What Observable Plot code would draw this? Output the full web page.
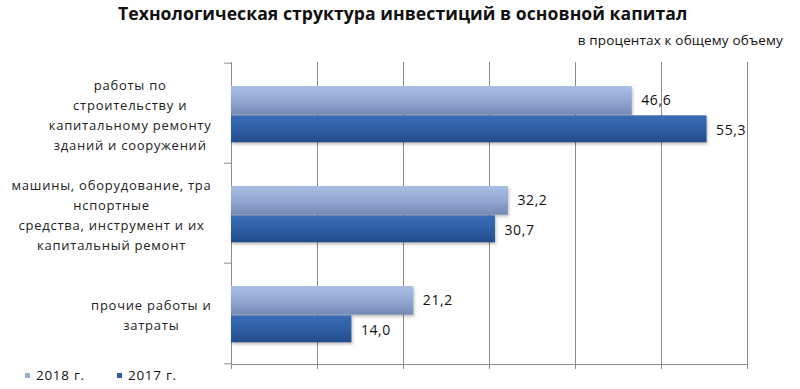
<!DOCTYPE html>
<html><head><meta charset="utf-8">
<script src="https://cdn.jsdelivr.net/npm/d3@7"></script>
<script src="https://cdn.jsdelivr.net/npm/@observablehq/plot@0.6"></script>
<style>
body{margin:0;background:#fff;}
#wrap{position:relative;width:800px;height:389px;overflow:hidden;font-family:"Open Sans",sans-serif;}
.t{position:absolute;white-space:nowrap;line-height:1;color:#111;}
.sw{position:absolute;width:5px;height:5px;}
</style></head><body>
<svg width="0" height="0" style="position:absolute">
<defs>
<linearGradient id="g2018" x1="0" y1="0" x2="0" y2="1">
<stop offset="0" stop-color="#abbfe4"/><stop offset="0.45" stop-color="#96abd5"/><stop offset="1" stop-color="#7489b4"/>
</linearGradient>
<linearGradient id="g2017" x1="0" y1="0" x2="0" y2="1">
<stop offset="0" stop-color="#3a6db6"/><stop offset="0.45" stop-color="#3061a8"/><stop offset="1" stop-color="#234b88"/>
</linearGradient>
</defs></svg>
<div id="wrap">
<div id="chart"></div>
<div class="t" id="title"></div>
<div class="t" id="subtitle"></div>
<div id="legend"></div>
</div>
<script>
const categories = ["construction", "machinery", "other"];
const categoryLabels = [
  "работы по\nстроительству и\nкапитальному ремонту\nзданий и сооружений",
  "машины, оборудование, тра\nнспортные\nсредства, инструмент и их\nкапитальный ремонт",
  "прочие работы и\nзатраты"
];
const seriesNames = ["2018 г.", "2017 г."];
const seriesColors = ["#9aaed6", "#2e5fa4"];
const values2018 = [46.6, 32.2, 21.2];
const values2017 = [55.3, 30.7, 14.0];
const xTicks = [0, 10, 20, 30, 40, 50, 60];
const titleText = "Технологическая структура инвестиций в основной капитал";
const subtitleText = "в процентах к общему объему";

const rows = categories.map((c, i) => ({cat: c, label: categoryLabels[i], v2018: values2018[i], v2017: values2017[i]}));
const fmt = v => v.toFixed(1).replace(".", ",");

const W = 800, H = 389, mL = 231, mR = 53, mT = 62, mB = 25;
const bw = (H - mT - mB) / categories.length;
const gridColor = "#8c8c8c";

const chart = Plot.plot({
  width: W, height: H,
  marginLeft: mL, marginRight: mR, marginTop: mT, marginBottom: mB,
  style: {color: gridColor, background: "transparent", overflow: "visible", fontFamily: "Open Sans, sans-serif"},
  x: {domain: [0, 60], ticks: xTicks, tickSize: 5, tickFormat: () => "", line: true, label: null},
  y: {domain: categories, padding: 0, axis: null},
  marks: [
    Plot.ruleX(xTicks, {stroke: gridColor}),
    Plot.ruleY(categories, {y: d => d, x1: -0.8, x2: 0, dy: -bw / 2, stroke: gridColor}),
    Plot.ruleY(categories.slice(-1), {y: d => d, x1: -0.8, x2: 0, dy: bw / 2, stroke: gridColor}),
    Plot.barX(rows, {y: "cat", x: "v2018", fill: "url(#g2018)", insetTop: 23, insetBottom: bw - 52.3, ariaDescription: "bars"}),
    Plot.barX(rows, {y: "cat", x: "v2017", fill: "url(#g2017)", insetTop: 52.3, insetBottom: 20.7, ariaDescription: "bars"}),
    Plot.text(rows, {y: "cat", x: "v2018", text: d => fmt(d.v2018), textAnchor: "start", dx: 9, dy: -12.8, fill: "#111", fontSize: 14, ariaDescription: "values"}),
    Plot.text(rows, {y: "cat", x: "v2017", text: d => fmt(d.v2017), textAnchor: "start", dx: 9, dy: 17, fill: "#111", fontSize: 14, ariaDescription: "values"}),
    Plot.text(rows, {y: "cat", text: "label", frameAnchor: "left", textAnchor: "middle", lineHeight: 1.55, fontSize: 13, fill: "#222", ariaDescription: "category-labels"})
  ]
});
document.getElementById("chart").appendChild(chart);

chart.querySelectorAll('g[aria-description="values"] text').forEach(t => t.style.letterSpacing = "0.6px");
chart.querySelectorAll('g[aria-description="category-labels"] text').forEach(t => t.style.letterSpacing = "0.75px");

// align each category label block so its right edge sits left of the axis
const labelRight = 211;
chart.querySelectorAll('g[aria-description="category-labels"] text').forEach(t => {
  const b = t.getBBox();
  const m = t.transform.baseVal.consolidate();
  const e = m ? m.matrix.e : 0;
  const shift = labelRight - (e + b.x + b.width);
  t.setAttribute("transform", `translate(${shift},0) ` + (t.getAttribute("transform") || ""));
});
chart.querySelectorAll('g[aria-description="bars"]').forEach(g => g.style.filter = "drop-shadow(1px 2px 1.5px rgba(0,0,0,0.25))");

const title = document.getElementById("title");
title.textContent = titleText;
Object.assign(title.style, {left: "118px", top: "5px", fontSize: "17.6px", fontWeight: "bold", letterSpacing: "0.05px"});
const sub = document.getElementById("subtitle");
sub.textContent = subtitleText;
Object.assign(sub.style, {right: (800 - 783) + "px", top: "33.5px", fontSize: "13.5px", letterSpacing: "0.15px"});

const legend = document.getElementById("legend");
const legX = [25, 117];
seriesNames.forEach((s, i) => {
  const sw = document.createElement("div");
  sw.className = "sw";
  Object.assign(sw.style, {left: legX[i] + "px", top: "373px", background: seriesColors[i]});
  legend.appendChild(sw);
  const tx = document.createElement("div");
  tx.className = "t";
  tx.textContent = s;
  Object.assign(tx.style, {left: (legX[i] + 11) + "px", top: "368.5px", fontSize: "13.5px", letterSpacing: "0.7px"});
  legend.appendChild(tx);
});
</script>
</body></html>
